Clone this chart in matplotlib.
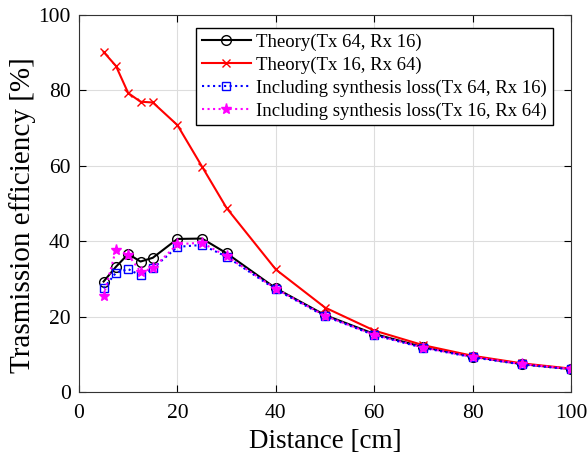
import matplotlib
matplotlib.use("Agg")
import matplotlib.pyplot as plt

distance = [5, 7.5, 10, 12.5, 15, 20, 25, 30, 40, 50, 60, 70, 80, 90, 100]
theory_64_16 = [29.3, 33.2, 36.6, 34.6, 35.6, 40.6, 40.7, 36.8, 27.5, 20.4, 15.4, 11.9, 9.4, 7.4, 6.1]
theory_16_64 = [90.2, 86.5, 79.3, 77.0, 76.8, 70.8, 59.8, 48.8, 32.5, 22.4, 16.3, 12.4, 9.6, 7.6, 6.2]
loss_64_16 = [27.5, 31.6, 32.6, 30.9, 32.8, 38.5, 39.0, 35.9, 27.2, 20.1, 15.1, 11.7, 9.2, 7.3, 6.0]
loss_16_64 = [25.5, 37.7, 36.4, 31.9, 32.8, 39.2, 39.6, 36.0, 27.4, 20.2, 15.2, 11.8, 9.3, 7.4, 6.1]

labels = ["Theory(Tx 64, Rx 16)", "Theory(Tx 16, Rx 64)",
          "Including synthesis loss(Tx 64, Rx 16)", "Including synthesis loss(Tx 16, Rx 64)"]

plt.rcParams['font.family'] = ['Liberation Serif', 'DejaVu Serif']

fig = plt.figure(figsize=(5.87, 4.55), dpi=100)
ax = fig.add_axes([0.1346, 0.1385, 0.8381, 0.8285])

ax.plot(distance, theory_64_16, color='black', linestyle='-', linewidth=1.5,
        marker='o', markersize=7, markerfacecolor='none', markeredgecolor='black', label=labels[0])
ax.plot(distance, theory_16_64, color='red', linestyle='-', linewidth=1.5,
        marker='x', markersize=6, label=labels[1])
ax.plot(distance, loss_64_16, color='blue', linestyle=':', linewidth=1.5,
        marker='s', markersize=6, markerfacecolor='none', markeredgecolor='blue', label=labels[2])
ax.plot(distance, loss_16_64, color='magenta', linestyle=':', linewidth=1.5,
        marker='*', markersize=8, label=labels[3])

ax.set_xlim(0, 100)
ax.set_ylim(0, 100)
ax.set_xticks([0, 20, 40, 60, 80, 100])
ax.set_yticks([0, 20, 40, 60, 80, 100])
ax.grid(True, color='#dddddd', linewidth=0.8)
ax.tick_params(direction='in', top=True, right=True, labelsize=15.5, length=5)
ax.tick_params(axis='x', pad=9)
ax.tick_params(axis='y', pad=6)
for s in ax.spines.values():
    s.set_color('#333333')
ax.set_xlabel("Distance [cm]", fontsize=19.5, labelpad=4)
ax.set_ylabel("Trasmission efficiency [%]", fontsize=21, labelpad=2)
ax.yaxis.label.set_y(0.47)

leg = ax.legend(loc='upper right', fontsize=13.5, frameon=True, fancybox=False,
                edgecolor='black', framealpha=1, handlelength=2.6, borderpad=0.3,
                labelspacing=0.3, handletextpad=0.3, borderaxespad=0,
                bbox_to_anchor=(0.963, 0.966))
leg.get_frame().set_linewidth(1.0)

fig.savefig("out.png", dpi=100)
